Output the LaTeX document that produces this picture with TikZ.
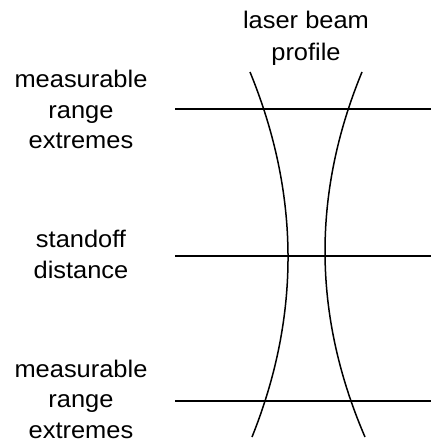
\documentclass[tikz,border=0pt]{standalone}
\usepackage{fontspec}
\setmainfont{Liberation Sans}[FakeStretch=1.06]

\begin{document}
\begin{tikzpicture}[x=1pt,y=-1pt,line width=1.5pt,
    tag/.style={align=center,inner sep=0pt,font=\fontsize{24}{30.5}\selectfont}]
    \useasboundingbox (0,0) rectangle (431,444);
    % labels on the left
    \node[tag] (upper) at (81,109.5) {measurable\\range\\extremes};
    \node[tag] (standoff) at (81,254.5) {standoff\\distance};
    \node[tag] (lower) at (81,399) {measurable\\range\\extremes};
    \node[tag,font=\fontsize{24}{32}\selectfont] (beam) at (306,38.5) {laser beam\\profile};
    % range and standoff lines
    \draw (175,109) -- (431,109);
    \draw (175,256) -- (431,256);
    \draw (175,401) -- (431,401);
    % beam profile, narrowest at standoff
    \draw (250,72) .. controls (300,194) and (300.7,315.7) .. (252,437);
    \draw (362,72) .. controls (311.7,194) and (312.7,315.7) .. (365,437);
\end{tikzpicture}
\end{document}
